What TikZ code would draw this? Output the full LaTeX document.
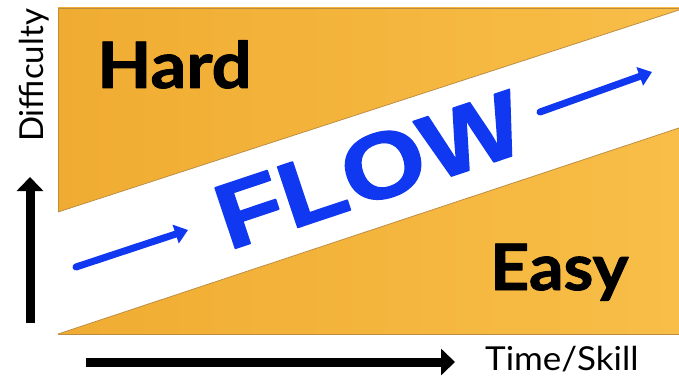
\documentclass[tikz,border=0pt]{standalone}
\usepackage{fontspec}
\setmainfont{Lato}[BoldFeatures={FakeBold=1.5}]
\newfontfamily\flowfont{Liberation Sans}[BoldFeatures={FakeBold=1.5}]
\usetikzlibrary{arrows.meta}
\definecolor{gold}{RGB}{248,190,72}
\definecolor{golddark}{RGB}{240,172,50}
\definecolor{goldline}{RGB}{190,140,62}
\definecolor{flowblue}{RGB}{16,56,240}

\begin{document}
\begin{tikzpicture}[x=1pt, y=-1pt, line join=round,
	axis/.style={line width=9pt, -{Triangle[length=14pt,width=26pt]}},
	trend/.style={flowblue, line width=7pt, line cap=round, -{Triangle[length=13pt,width=19pt]}},
	zone/.style={font=\fontsize{64}{64}\selectfont\bfseries, anchor=base west, inner sep=0pt},
	axislabel/.style={font=\fontsize{33}{33}\selectfont, anchor=base west, inner sep=0pt}]
	\useasboundingbox (0,0) rectangle (679,377);
	
	% Nen cam
	\shade[left color=golddark, right color=gold] (58,8) rectangle (679,334);
	\draw[goldline, line width=0.8pt] (58,8) rectangle (679,334);
	
	% Dai trang (vung FLOW)
	\fill[white] (58,212) -- (679,10) -- (679,128) -- (58,334) -- cycle;
	\draw[goldline, line width=0.8pt] (58,212) -- (679,10);
	\draw[goldline, line width=0.8pt] (58,334) -- (679,128);
	
	% Chu
	\node[zone] (hard) at (97,88) {\scalebox{1.1}[1]{Hard}};
	\node[zone] (easy) at (490,290) {\scalebox{1.06}[1]{Easy}};
	\node[rotate=18.5, text=flowblue, inner sep=0pt,
		font=\flowfont\fontsize{93}{93}\selectfont\bfseries] (flow) at (369,170) {\scalebox{1.16}[1]{FLOW}};
	
	% Mui ten xanh
	\coordinate (s1) at (76,267);
	\coordinate (t1) at (188,230);
	\coordinate (s2) at (540,112);
	\coordinate (t2) at (652,72);
	\draw[trend] (s1) -- (t1);
	\draw[trend] (s2) -- (t2);
	
	% Truc
	\coordinate (o1) at (30,323);
	\coordinate (y1) at (30,177);
	\coordinate (o2) at (86,362);
	\coordinate (x1) at (455,362);
	\draw[axis] (o1) -- (y1);
	\draw[axis] (o2) -- (x1);
	\node[axislabel, rotate=90] (difficulty) at (43,142) {Difficulty};
	\node[axislabel] (timeskill) at (485,370) {\scalebox{1.06}[1]{Time/Skill}};
\end{tikzpicture}
\end{document}
